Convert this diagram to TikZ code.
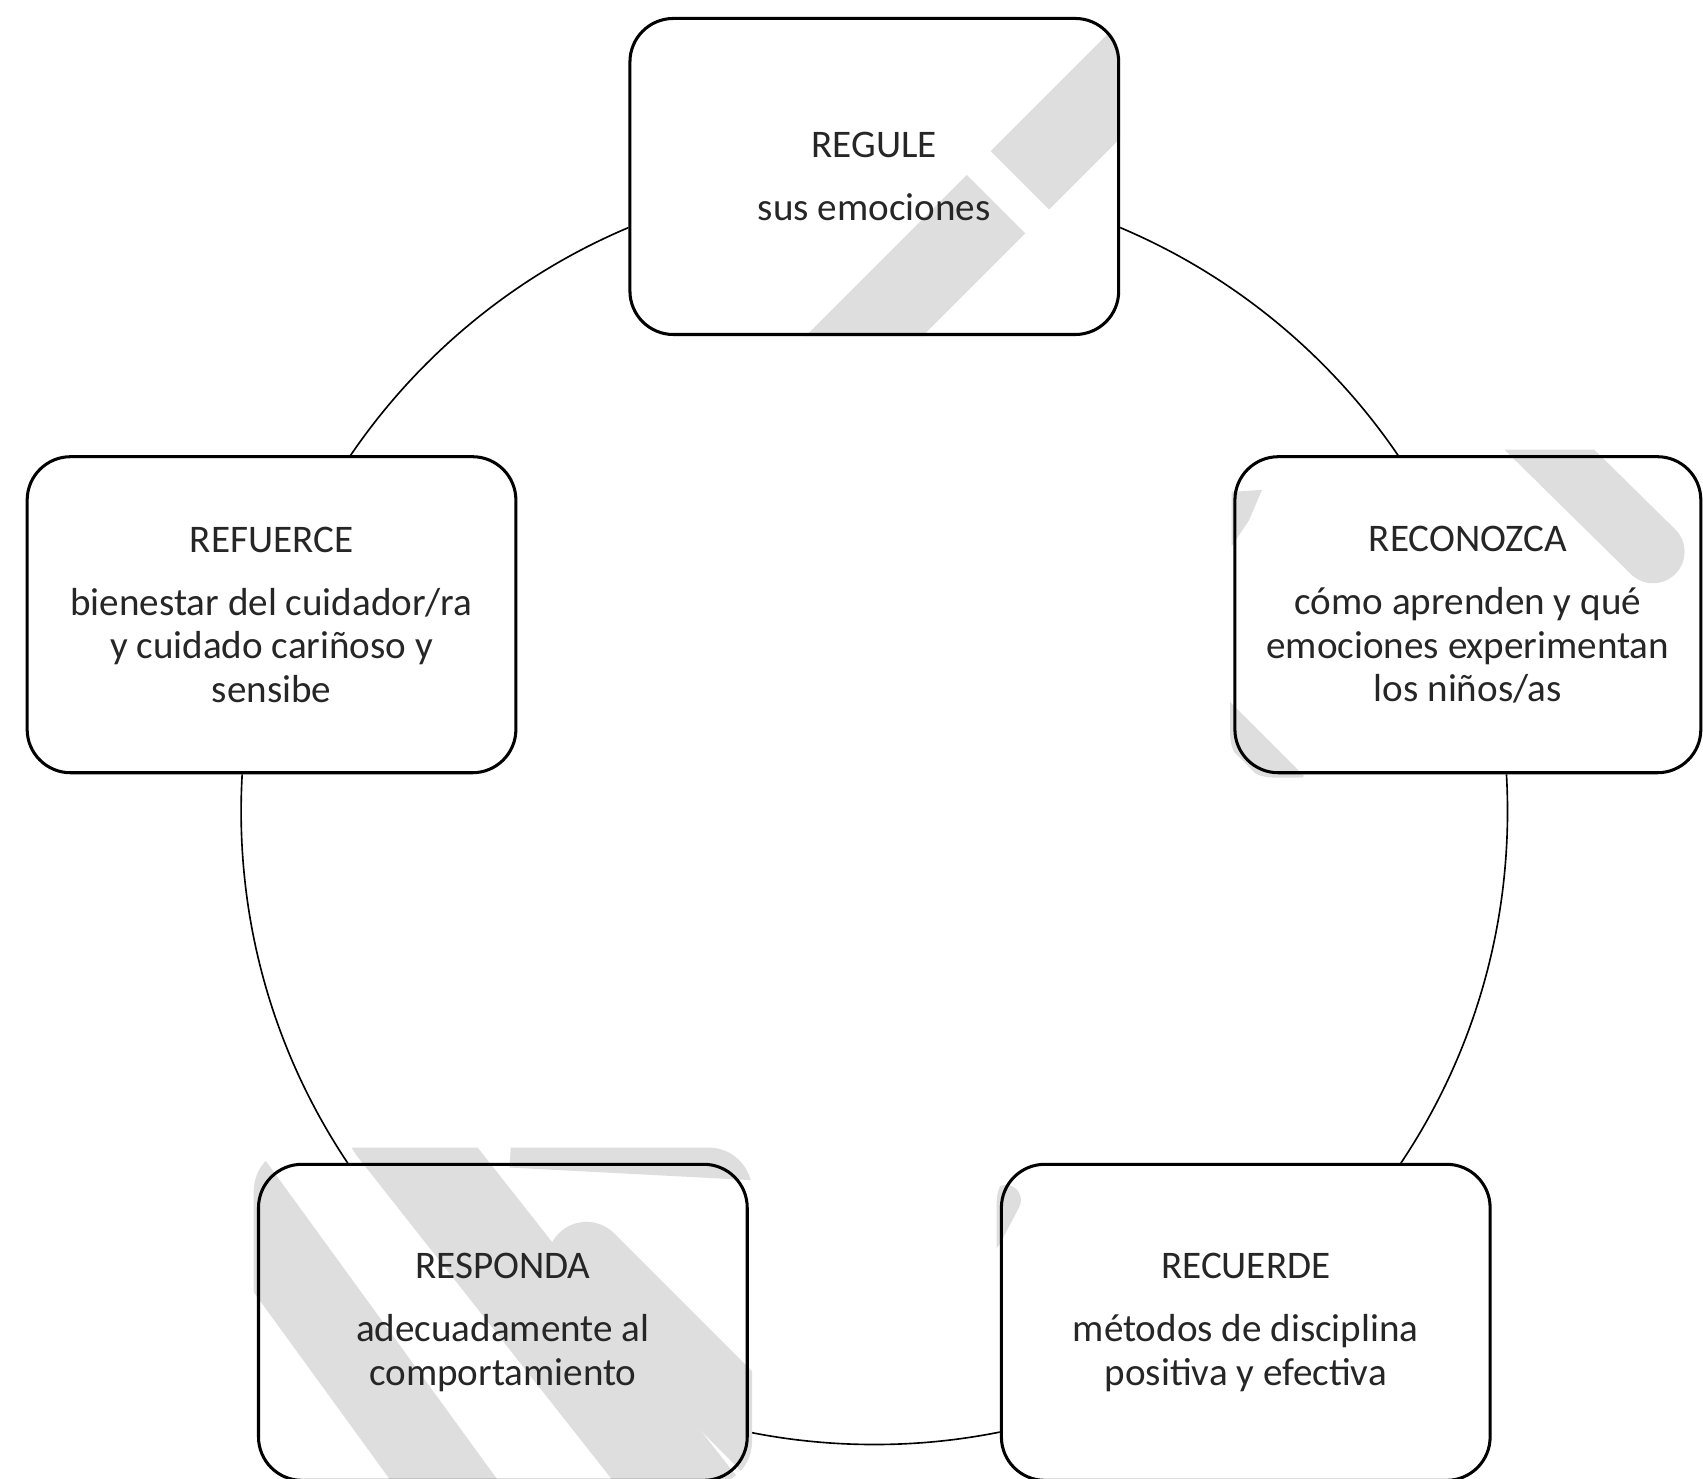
\documentclass[tikz,border=0pt]{standalone}
\usepackage{fontspec}
\setmainfont{Carlito}
\usetikzlibrary{calc}
\pgfdeclarelayer{bg}
\pgfdeclarelayer{wm}
\pgfsetlayers{bg,wm,main}
\definecolor{wmgray}{RGB}{222,222,222}
\definecolor{txt}{RGB}{38,38,38}
\begin{document}
\begin{tikzpicture}[x=0.5pt,y=0.5pt,
  stepbox/.style={draw=black, line width=1.4pt, rounded corners=20pt,
    minimum width=225pt, minimum height=145.5pt, inner sep=0pt,
    align=center, font=\fontsize{18}{20}\selectfont, text=txt},
  ring/.style={draw=black, line width=0.75pt},
  wmark/.style={draw=wmgray, line width=35pt, line cap=round},
  wbutt/.style={draw=wmgray, line width=38pt, line cap=butt},
]
\useasboundingbox (0,0) rectangle (1568,1361);

% boxes
\node[stepbox] (regule) at (805,1198.5) {REGULE\\[9pt]sus emociones};
\node[stepbox, minimum width=214.5pt] (reconozca) at (1351.5,795)
  {RECONOZCA\\[9pt]cómo aprenden y qué\\emociones experimentan\\los niños/as};
\node[stepbox] (refuerce) at (250,795)
  {REFUERCE\\[9pt]bienestar del cuidador/ra\\y cuidado cariñoso y\\sensibe};
\node[stepbox] (responda) at (463,143.5)
  {RESPONDA\\[9pt]adecuadamente al\\comportamiento};
\node[stepbox] (recuerde) at (1147,143.5)
  {RECUERDE\\[9pt]métodos de disciplina\\positiva y efectiva};

\coordinate (ctr) at (805,614);

\begin{pgfonlayer}{bg}
  \fill[white] (0,0) rectangle (1568,1361);
  \draw[ring] (ctr) circle[radius=291.5pt];
  \foreach \n in {regule,reconozca,refuerce,responda,recuerde}
    \fill[white, rounded corners=20pt] (\n.south west) rectangle (\n.north east);
\end{pgfonlayer}

\begin{pgfonlayer}{wm}
  % REGULE: one "/" stripe broken by a narrow gap
  \begin{scope}
    \clip[rounded corners=20pt] (regule.south west) rectangle (regule.north east);
    \draw[wbutt] (939,1195) -- (1110,1366);
    \draw[wbutt] (917,1173) -- (760,1016);
  \end{scope}
  % RECONOZCA
  \begin{scope}
    \clip[rounded corners=20pt] ($(reconozca.south west)+(-3,-3)$) rectangle ($(reconozca.north east)+(3,5)$);
    \draw[wmark, line width=29pt] (1522,853) -- (1395,978);
    \fill[wmgray] (1134,908) -- (1162,910) -- (1150,882) -- (1134,858) -- cycle;
    \draw[wmark, line width=15pt, line cap=butt] (1110,716) -- (1190,636);
  \end{scope}
  % RECUERDE
  \begin{scope}
    \clip[rounded corners=20pt] ($(recuerde.south west)+(-3,-3)$) rectangle ($(recuerde.north east)+(3,3)$);
    \draw[wmark, line width=14pt] (926,256) -- (908,222);
  \end{scope}
  % RESPONDA
  \begin{scope}
    \clip[rounded corners=20pt] ($(responda.south west)+(-3,-3)$) rectangle ($(responda.north east)+(3,14)$);
    \draw[wmark, line width=40pt] (215,265) -- (425,-24);
    \draw[wmark, line width=46pt] (365,325) -- (640,-24);
    \draw[wmark, line width=36pt] (540,200) -- (730,10);
    \draw[wmark, line width=14pt, line cap=butt] (470,300) -- (700,288);
  \end{scope}
\end{pgfonlayer}
\end{tikzpicture}
\end{document}
